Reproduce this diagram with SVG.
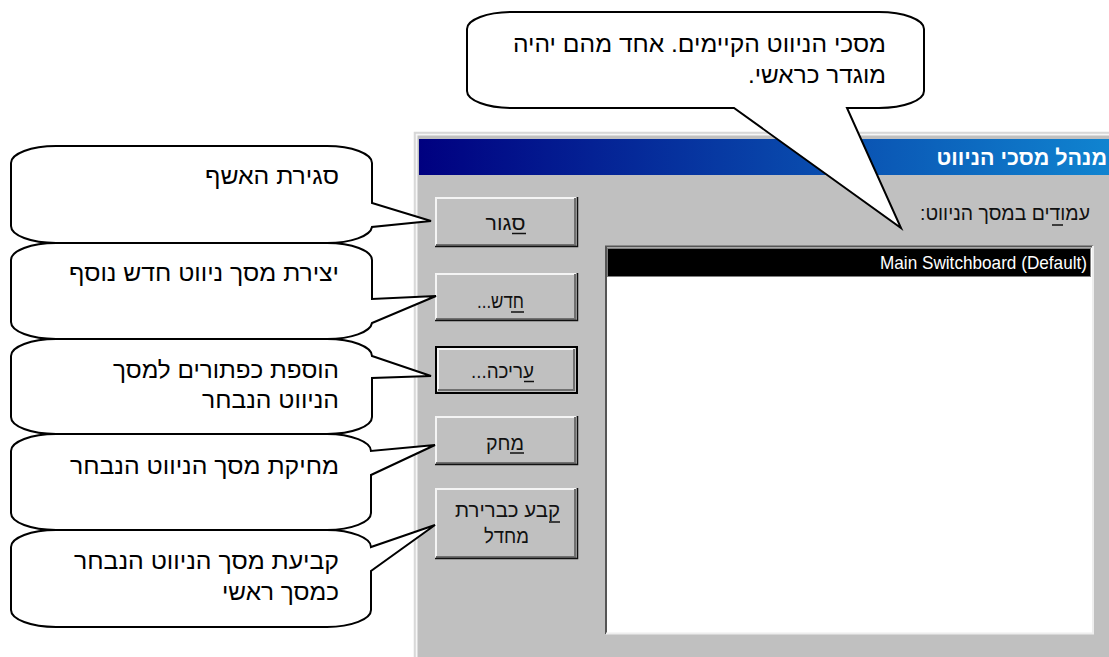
<svg xmlns="http://www.w3.org/2000/svg" width="1109" height="657" viewBox="0 0 1109 657">
<style>
.c{fill:#fff;stroke:#000;stroke-width:2;stroke-linejoin:miter}
.t{font-family:"Liberation Sans",Arial,sans-serif;font-size:24px;fill:#000;direction:rtl;text-anchor:start}
.b{font-family:"Liberation Sans",Arial,sans-serif;font-size:20px;fill:#111;direction:rtl;text-anchor:middle}
.u{fill:none;stroke:#111;stroke-width:1.500}
.face{fill:#c0c0c0}
.hl{fill:none;stroke:#f4f4f4;stroke-width:2}
.sh{fill:none;stroke:#707070;stroke-width:2}
.bk{fill:none;stroke:#101010;stroke-width:1.5}
</style>
<defs>
<linearGradient id="tb" x1="0" x2="1" y1="0" y2="0"><stop offset="0" stop-color="#000080"/><stop offset="1" stop-color="#1084d0"/></linearGradient>
</defs>
<rect width="1109" height="657" fill="#fff"/>
<g id="dialog">
<rect x="414" y="132" width="700" height="530" fill="#c0c0c0"/>
<path d="M414.500 657V132.500H1109" fill="none" stroke="#d8d8d8" stroke-width="1.500"/>
<path d="M416.500 657V134.500H1109" fill="none" stroke="#f6f6f6" stroke-width="2"/>
<rect x="419" y="139" width="690" height="36" fill="url(#tb)"/>
<text x="1107" y="165" font-family="'Liberation Sans',sans-serif" font-weight="bold" font-size="21.500" fill="#fff" direction="rtl" text-anchor="start">מנהל מסכי הניווט</text>
<text x="1090" y="220" font-family="'Liberation Sans',sans-serif" font-size="20" fill="#111" direction="rtl" text-anchor="start" textLength="170" lengthAdjust="spacingAndGlyphs">עמודים במסך הניווט:</text>
<path class="u" d="M1052 225H1063"/>
</g>
<g id="list">
<rect x="606" y="246" width="487" height="388" fill="#fff"/>
<path d="M606 634V246.500H1093" fill="none" stroke="#555" stroke-width="2"/>
<path d="M606 633.500H1093V246" fill="none" stroke="#eee" stroke-width="2"/>
<rect x="607" y="248" width="484" height="29" fill="#000"/>
<rect x="607.500" y="248.500" width="483" height="28" fill="none" stroke="#fff" stroke-width="1" stroke-dasharray="1 1"/>
<text x="880" y="269" font-family="'Liberation Sans',sans-serif" font-size="19" fill="#fff" textLength="207" lengthAdjust="spacingAndGlyphs">Main Switchboard (Default)</text>
</g>
<g id="btn-close">
<rect class="face" x="435" y="197" width="142" height="50"/>
<path class="hl" d="M436 246V198H576"/><path class="sh" d="M436 245H575V198"/><path class="bk" d="M435 246.500H577.500V197"/>
<text class="b" x="505.500" y="230" textLength="40" lengthAdjust="spacingAndGlyphs">סגור</text>
<path class="u" d="M512 233.500H526"/>
</g>
<g id="btn-new">
<rect class="face" x="435" y="273" width="142" height="48"/>
<path class="hl" d="M436 320V274H576"/><path class="sh" d="M436 319H575V274"/><path class="bk" d="M435 320.500H577.500V273"/>
<text class="b" x="500.500" y="308" textLength="47" lengthAdjust="spacingAndGlyphs">חדש...</text>
<path class="u" d="M511 312H524"/>
</g>
<g id="btn-edit">
<rect class="face" x="435" y="346" width="142" height="47"/>
<rect x="436" y="347" width="141" height="46" fill="none" stroke="#000" stroke-width="2"/>
<path class="hl" d="M438 391V349H575" stroke-width="1.500"/><path class="sh" d="M438 390H574V349"/>
<text class="b" x="502.500" y="378" textLength="63" lengthAdjust="spacingAndGlyphs">עריכה...</text>
<path class="u" d="M524 381.500H534"/>
</g>
<g id="btn-delete">
<rect class="face" x="435" y="416" width="142" height="49"/>
<path class="hl" d="M436 464V417H576"/><path class="sh" d="M436 463H575V417"/><path class="bk" d="M435 464.500H577.500V416"/>
<text class="b" x="505" y="450" textLength="38" lengthAdjust="spacingAndGlyphs">מחק</text>
<path class="u" d="M510 453H524"/>
</g>
<g id="btn-default">
<rect class="face" x="435" y="488" width="142" height="71"/>
<path class="hl" d="M436 558V489H576"/><path class="sh" d="M436 557H575V489"/><path class="bk" d="M435 558.500H577.500V488"/>
<text class="b" x="507.500" y="517" textLength="105" lengthAdjust="spacingAndGlyphs">קבע כברירת</text>
<path class="u" d="M549 522H560"/>
<text class="b" x="506.500" y="543" textLength="45" lengthAdjust="spacingAndGlyphs">מחדל</text>
</g>
<g id="callout-close">
<path class="c" d="M56 146H327A45 17 0 0 1 372 163V203L431 221L372 227A45 17 0 0 1 327 243H56A45 17 0 0 1 11 226V163A45 17 0 0 1 56 146Z"/>
<text class="t" x="339" y="184" textLength="134" lengthAdjust="spacingAndGlyphs">סגירת האשף</text>
</g>
<g id="callout-new">
<path class="c" d="M56 243H327A45 17 0 0 1 372 260V299L436 296L372 323A45 17 0 0 1 327 339H56A45 17 0 0 1 11 322V260A45 17 0 0 1 56 243Z"/>
<text class="t" x="339" y="281" textLength="270" lengthAdjust="spacingAndGlyphs">יצירת מסך ניווט חדש נוסף</text>
</g>
<g id="callout-edit">
<path class="c" d="M56 339H327A45 17 0 0 1 372 356L431 376L372 378V417A45 17 0 0 1 327 434H56A45 17 0 0 1 11 417V356A45 17 0 0 1 56 339Z"/>
<text class="t" x="339" y="378" textLength="226" lengthAdjust="spacingAndGlyphs">הוספת כפתורים למסך</text>
<text class="t" x="339" y="408" textLength="137" lengthAdjust="spacingAndGlyphs">הניווט הנבחר</text>
</g>
<g id="callout-delete">
<path class="c" d="M56 434H327A45 17 0 0 1 371 451L435 445L371 475V513A45 17 0 0 1 327 530H56A45 17 0 0 1 11 513V451A45 17 0 0 1 56 434Z"/>
<text class="t" x="339" y="474" textLength="269" lengthAdjust="spacingAndGlyphs">מחיקת מסך הניווט הנבחר</text>
</g>
<g id="callout-default">
<path class="c" d="M56 530H327A45 17 0 0 1 371 547L435 525L371 571V610A45 17 0 0 1 327 627H56A45 17 0 0 1 11 610V547A45 17 0 0 1 56 530Z"/>
<text class="t" x="339" y="569" textLength="265" lengthAdjust="spacingAndGlyphs">קביעת מסך הניווט הנבחר</text>
<text class="t" x="339" y="600" textLength="117" lengthAdjust="spacingAndGlyphs">כמסך ראשי</text>
</g>
<g id="callout-list">
<path class="c" d="M512 12H879A45 17 0 0 1 924 29V91A45 17 0 0 1 879 108H847L901 228L734 108H512A45 17 0 0 1 467 91V29A45 17 0 0 1 512 12Z"/>
<text class="t" x="886" y="52" textLength="373" lengthAdjust="spacingAndGlyphs">מסכי הניווט הקיימים. אחד מהם יהיה</text>
<text class="t" x="886" y="83" textLength="138" lengthAdjust="spacingAndGlyphs">מוגדר כראשי.</text>
</g>
</svg>
